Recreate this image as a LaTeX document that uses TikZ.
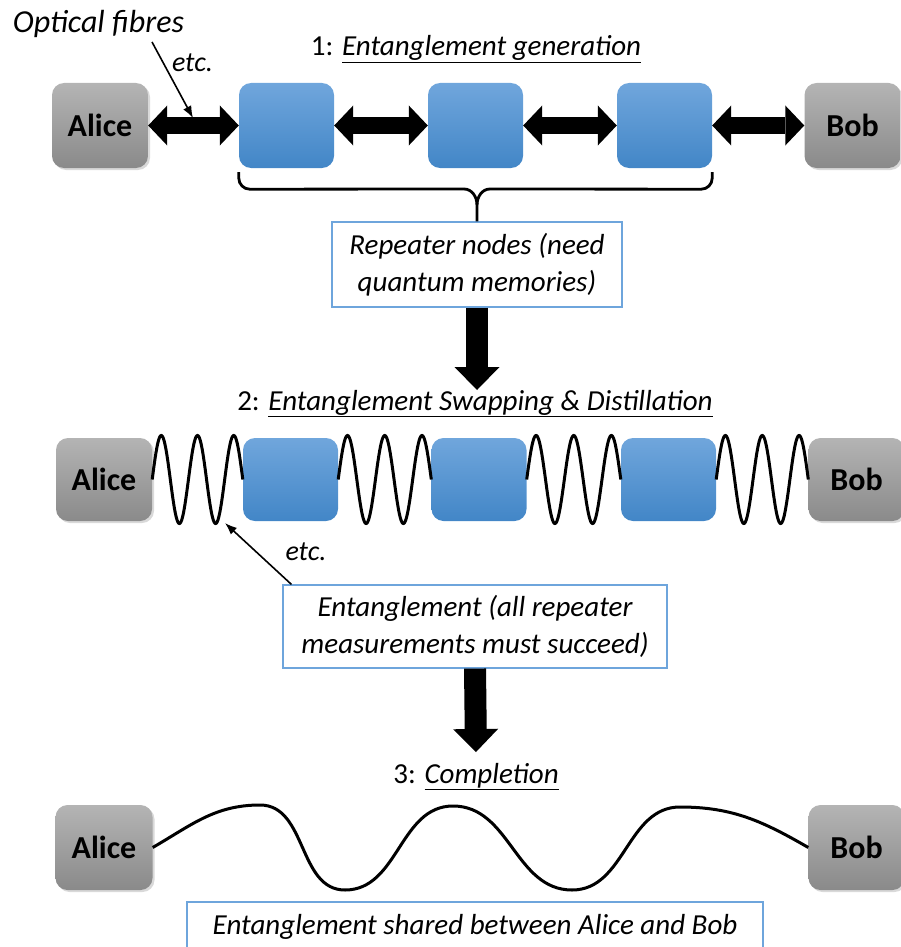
\documentclass[tikz,border=0pt]{standalone}
\usepackage{fontspec}
\setmainfont{Carlito}
\usetikzlibrary{arrows.meta,calc,shadows}

\definecolor{greytop}{RGB}{180,180,180}
\definecolor{greybot}{RGB}{138,138,138}
\definecolor{bluetop}{RGB}{112,166,220}
\definecolor{bluebot}{RGB}{66,134,199}
\definecolor{frameblue}{RGB}{110,165,220}

\tikzset{
  party/.style={rounded corners=12pt, minimum width=96pt, minimum height=85pt,
    top color=greytop, bottom color=greybot,
    drop shadow={opacity=0.3, shadow xshift=2pt, shadow yshift=-2pt},
    font=\bfseries\fontsize{32}{38}\selectfont},
  repeater/.style={rounded corners=12pt, minimum width=95pt, minimum height=85pt,
    top color=bluetop, bottom color=bluebot},
  infobox/.style={draw=frameblue, line width=1.2pt, fill=white, align=center,
    font=\itshape\fontsize{29}{37}\selectfont},
  steptitle/.style={anchor=base, inner sep=0pt, font=\fontsize{29}{34}\selectfont},
  note/.style={anchor=base, inner sep=0pt, font=\itshape\fontsize{28}{34}\selectfont},
  fibre/.style={line width=17pt,
    {Triangle[width=40pt,length=19pt,line width=0pt]}-{Triangle[width=40pt,length=19pt,line width=0pt]}},
  bigarrow/.style={line width=22pt, -{Triangle[width=45pt,length=23pt,line width=0pt]}},
  wave/.style={line width=3pt},
  brace/.style={line width=2.8pt},
  pointer/.style={line width=1.6pt, -{Latex[length=12pt,width=9pt]}}
}

\begin{document}
\begin{tikzpicture}[x=1pt,y=-1pt]
		%%%%% START %%%%%
		\useasboundingbox (0,0) rectangle (901,947);
		
		% 1: entanglement generation
		\node[steptitle] (t1) at (476,56) {1: \underline{\textit{Entanglement generation}}};
		\node[note, font=\itshape\fontsize{32}{38}\selectfont] (fibres) at (98.5,33) {Optical fibres};
		\node[note] (etc1) at (192.5,72) {etc.};
		
		\node[party] (a1) at (100,125.5) {Alice};
		\node[repeater] (r11) at (286.5,125.5) {};
		\node[repeater] (r12) at (475.5,125.5) {};
		\node[repeater] (r13) at (664.5,125.5) {};
		\node[party] (b1) at (852.5,125.5) {Bob};
		
		\foreach \a/\b in {a1/r11,r11/r12,r12/r13,r13/b1}
			\draw[fibre] (\a) -- (\b);
		
		\coordinate (fibtail) at (152,42);
		\coordinate (fibtip) at (193,118);
		\draw[pointer] (fibtail) -- (fibtip);
		
		\node[infobox, minimum width=290pt, minimum height=85pt] (rep) at (477,264.5) {Repeater nodes (need\\quantum memories)};
		
		\draw[brace] ([yshift=-4pt]r11.south west) -- ++(0,6) to[out=-90,in=180] ++(11,11) -- (464,189) to[out=0,in=90] (477,205) -- (rep.north);
		\draw[brace] ([yshift=-4pt]r13.south east) -- ++(0,6) to[out=-90,in=0] ++(-11,11) -- (490,189) to[out=180,in=90] (477,205);
		
		\coordinate (down1) at (477,390);
		\draw[bigarrow] (rep.south) -- (down1);
		
		% 2: swapping and distillation
		\node[steptitle] (t2) at (475,410) {2: \underline{\textit{Entanglement Swapping \& Distillation}}};
		
		\node[party, minimum height=83pt] (a2) at (104,479.5) {Alice};
		\node[repeater, minimum height=83pt] (r21) at (290.5,479.5) {};
		\node[repeater, minimum height=83pt] (r22) at (479,479.5) {};
		\node[repeater, minimum height=83pt] (r23) at (668.5,479.5) {};
		\node[party, minimum height=83pt] (b2) at (856.5,479.5) {Bob};
		
		\foreach \a/\b in {a2/r21,r21/r22,r22/r23,r23/b2}
			\draw[wave] let \p1=(\a.east), \p2=(\b.west) in
				plot[variable=\t, domain=0:900, samples=151, smooth] ({\x1+(\x2-\x1)*(\t/900)}, {\y1+44pt*sin(\t)});
		
		\node[note] (etc2) at (306,560) {etc.};
		\node[infobox, minimum width=384pt, minimum height=83pt] (ent) at (475,626.5) {Entanglement (all repeater\\measurements must succeed)};
		\coordinate (wavetip) at (225,523);
		\draw[pointer] ([xshift=9pt]ent.north west) -- (wavetip);
		
		\coordinate (down2) at (476,752);
		\draw[bigarrow] (ent.south) -- (down2);
		
		% 3: completion
		\node[steptitle] (t3) at (476,783) {3: \underline{\textit{Completion}}};
		
		\node[party, minimum width=97pt] (a3) at (104,847.5) {Alice};
		\node[party] (b3) at (856.5,847.5) {Bob};
		
		\draw[wave] (a3.east) to[out=30,in=180] (260,805) to[out=0,in=180] (345,890)
			to[out=0,in=180] (453,806) to[out=0,in=180] (572,890)
			to[out=0,in=180] (680,807) to[out=0,in=150] (b3.west);
		
		\node[infobox, minimum width=576pt, minimum height=50pt] (shared) at (475,927) {Entanglement shared between Alice and Bob};
		%%%%% END %%%%%
\end{tikzpicture}
\end{document}
